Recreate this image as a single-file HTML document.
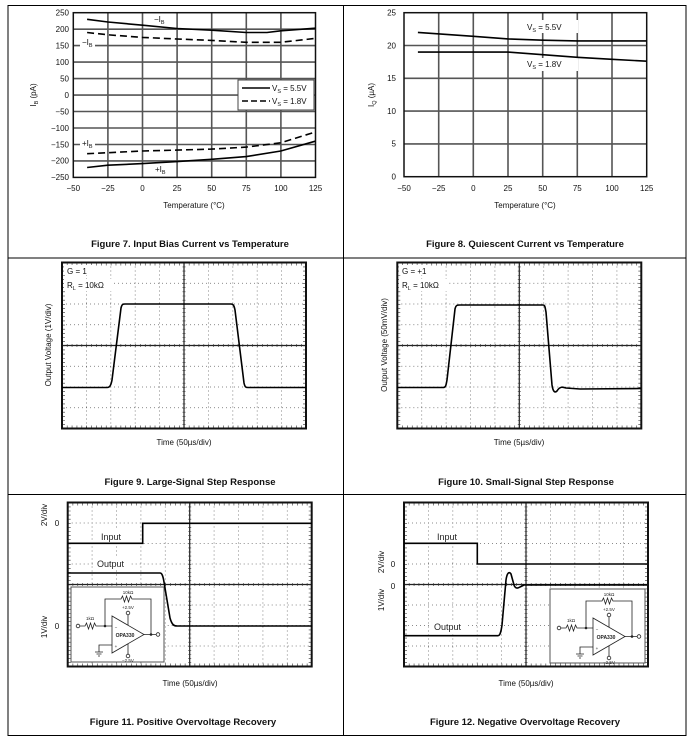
<!DOCTYPE html>
<html><head><meta charset="utf-8"><style>
html,body{margin:0;padding:0;background:#fff}
svg{display:block;font-family:"Liberation Sans",sans-serif}
.t{font-size:8px;fill:#111}
.cap{font-size:9.5px;font-weight:bold;fill:#111;text-anchor:middle}
.ax{font-size:8px;fill:#111;text-anchor:middle}
.dot{stroke:#666;stroke-width:0.8;stroke-dasharray:1 3}
.w{fill:none;stroke:#000;stroke-width:1.6}
</style></head><body>
<svg width="693" height="744" viewBox="0 0 693 744">
<defs>
<g id="scA">
<g class="dot">
<line x1="24.4" y1="0" x2="24.4" y2="166"/><line x1="48.8" y1="0" x2="48.8" y2="166"/><line x1="73.2" y1="0" x2="73.2" y2="166"/><line x1="97.6" y1="0" x2="97.6" y2="166"/><line x1="146.4" y1="0" x2="146.4" y2="166"/><line x1="170.8" y1="0" x2="170.8" y2="166"/><line x1="195.2" y1="0" x2="195.2" y2="166"/><line x1="219.6" y1="0" x2="219.6" y2="166"/>
<line x1="0" y1="20.75" x2="244" y2="20.75"/><line x1="0" y1="41.5" x2="244" y2="41.5"/><line x1="0" y1="62.25" x2="244" y2="62.25"/><line x1="0" y1="103.75" x2="244" y2="103.75"/><line x1="0" y1="124.5" x2="244" y2="124.5"/><line x1="0" y1="145.25" x2="244" y2="145.25"/>
</g>
<line x1="122" y1="0" x2="122" y2="166" stroke="#222" stroke-width="1.2"/>
<line x1="0" y1="83" x2="244" y2="83" stroke="#222" stroke-width="1.2"/>
<g stroke="#333" stroke-width="3" stroke-dasharray="0.6 4.28">
<line x1="0" y1="83" x2="244" y2="83"/><line x1="122" y1="0" x2="122" y2="166" stroke-dasharray="0.6 3.55"/>
<line x1="0" y1="1.5" x2="244" y2="1.5"/><line x1="0" y1="164.5" x2="244" y2="164.5"/>
<line x1="1.5" y1="0" x2="1.5" y2="166" stroke-dasharray="0.6 3.55"/><line x1="242.5" y1="0" x2="242.5" y2="166" stroke-dasharray="0.6 3.55"/>
</g>
<rect x="0" y="0" width="244" height="166" fill="none" stroke="#111" stroke-width="2"/>
</g>
<g id="scB">
<g class="dot">
<line x1="24.4" y1="0" x2="24.4" y2="164"/><line x1="48.8" y1="0" x2="48.8" y2="164"/><line x1="73.2" y1="0" x2="73.2" y2="164"/><line x1="97.6" y1="0" x2="97.6" y2="164"/><line x1="146.4" y1="0" x2="146.4" y2="164"/><line x1="170.8" y1="0" x2="170.8" y2="164"/><line x1="195.2" y1="0" x2="195.2" y2="164"/><line x1="219.6" y1="0" x2="219.6" y2="164"/>
<line x1="0" y1="20.5" x2="244" y2="20.5"/><line x1="0" y1="41" x2="244" y2="41"/><line x1="0" y1="61.5" x2="244" y2="61.5"/><line x1="0" y1="102.5" x2="244" y2="102.5"/><line x1="0" y1="123" x2="244" y2="123"/><line x1="0" y1="143.5" x2="244" y2="143.5"/>
</g>
<line x1="122" y1="0" x2="122" y2="164" stroke="#222" stroke-width="1.2"/>
<line x1="0" y1="82" x2="244" y2="82" stroke="#222" stroke-width="1.2"/>
<g stroke="#333" stroke-width="3" stroke-dasharray="0.6 4.28">
<line x1="0" y1="82" x2="244" y2="82"/><line x1="122" y1="0" x2="122" y2="164" stroke-dasharray="0.6 3.5"/>
<line x1="0" y1="1.5" x2="244" y2="1.5"/><line x1="0" y1="162.5" x2="244" y2="162.5"/>
<line x1="1.5" y1="0" x2="1.5" y2="164" stroke-dasharray="0.6 3.5"/><line x1="242.5" y1="0" x2="242.5" y2="164" stroke-dasharray="0.6 3.5"/>
</g>
<rect x="0" y="0" width="244" height="164" fill="none" stroke="#111" stroke-width="2"/>
</g>
<g id="circ">
<g fill="none" stroke="#222" stroke-width="0.8">
<circle cx="7" cy="39" r="1.8"/>
<path d="M9,39 H14 l1.5,-3 l2,6 l2,-6 l2,6 l2,-6 l1.5,3 H34 V12 H50 l1.5,-3 l2,6 l2,-6 l2,6 l2,-6 l1.5,3 H80 V47"/>
<path d="M41,29 L41,66 L73,47.5 Z" fill="#fff"/>
<path d="M34,39 H41 M73,47.5 H85"/>
<circle cx="87" cy="47.5" r="1.8"/>
<path d="M57,38 V28"/><circle cx="57" cy="26" r="1.8"/>
<path d="M57,57 V67"/><circle cx="57" cy="69" r="1.8"/>
<path d="M41,58 H28 V65 M24,65 H32 M25.5,67 H30.5 M27,69 H29"/>
</g>
<circle cx="34" cy="39" r="1.3" fill="#222"/><circle cx="80" cy="47.5" r="1.3" fill="#222"/>
<g font-size="4.5" fill="#222" text-anchor="middle">
<text x="19" y="33">1kΩ</text><text x="57" y="7">10kΩ</text>
<text x="57" y="22">+2.5V</text><text x="57" y="75">−2.5V</text>
<text x="45" y="42">−</text><text x="45" y="61">+</text>
</g>
<text x="54" y="50" font-size="5" font-weight="bold" fill="#222" text-anchor="middle">OPA330</text>
</g>
</defs>

<g stroke="#000" stroke-width="1" fill="none">
<rect x="8" y="5.5" width="678" height="730"/>
<line x1="343.5" y1="5.5" x2="343.5" y2="735.5"/>
<line x1="8" y1="258" x2="686" y2="258"/>
<line x1="8" y1="494.5" x2="686" y2="494.5"/>
</g>

<!-- Figure 7 -->
<g stroke="#555" stroke-width="1.6">
<line x1="107.9" y1="12.7" x2="107.9" y2="177.4"/><line x1="142.5" y1="12.7" x2="142.5" y2="177.4"/><line x1="177.1" y1="12.7" x2="177.1" y2="177.4"/><line x1="211.7" y1="12.7" x2="211.7" y2="177.4"/><line x1="246.3" y1="12.7" x2="246.3" y2="177.4"/><line x1="280.9" y1="12.7" x2="280.9" y2="177.4"/>
<line x1="73.3" y1="29.2" x2="315.5" y2="29.2"/><line x1="73.3" y1="45.6" x2="315.5" y2="45.6"/><line x1="73.3" y1="62.1" x2="315.5" y2="62.1"/><line x1="73.3" y1="78.6" x2="315.5" y2="78.6"/><line x1="73.3" y1="95.1" x2="315.5" y2="95.1"/><line x1="73.3" y1="111.5" x2="315.5" y2="111.5"/><line x1="73.3" y1="128" x2="315.5" y2="128"/><line x1="73.3" y1="144.5" x2="315.5" y2="144.5"/><line x1="73.3" y1="160.9" x2="315.5" y2="160.9"/>
</g>
<rect x="73.3" y="12.7" width="242.2" height="164.7" fill="none" stroke="#111" stroke-width="1.5"/>
<rect x="80" y="38" width="15" height="9" fill="#fff"/>
<rect x="80" y="138" width="15" height="9" fill="#fff"/>
<g class="w">
<path d="M87.1,19.3 L107.9,22 L142.5,25.2 L177,28.5 L211.6,30.2 L246.2,32.5 L267,32.5 L280.8,30.8 L315.3,28.2"/>
<path d="M87.1,167.5 L107.9,165.2 L142.5,163.6 L177,161.6 L211.6,159.3 L246.2,156.6 L280.8,151 L315.3,141.2"/>
<path d="M87.1,32.5 L107.9,34.8 L142.5,37.4 L177,39 L211.6,40.4 L246.2,42.3 L280.8,42.3 L315.3,38.4" stroke-dasharray="7 4"/>
<path d="M87.1,153.7 L107.9,152.7 L142.5,151 L177,150.1 L211.6,149.1 L246.2,147.1 L280.8,142.8 L315.3,132" stroke-dasharray="7 4"/>
</g>
<rect x="238" y="80" width="76" height="30" fill="#fff" stroke="#444" stroke-width="1"/>
<line x1="242" y1="88" x2="270" y2="88" stroke="#000" stroke-width="1.5"/>
<line x1="242" y1="101" x2="270" y2="101" stroke="#000" stroke-width="1.5" stroke-dasharray="6 3"/>
<text x="272" y="91" class="t">V<tspan font-size="5.5" dy="2">S</tspan><tspan dy="-2"> = 5.5V</tspan></text>
<text x="272" y="104" class="t">V<tspan font-size="5.5" dy="2">S</tspan><tspan dy="-2"> = 1.8V</tspan></text>
<text x="154" y="22" class="t">−I<tspan font-size="5.5" dy="2">B</tspan></text>
<text x="82" y="45" class="t">−I<tspan font-size="5.5" dy="2">B</tspan></text>
<text x="82" y="146" class="t">+I<tspan font-size="5.5" dy="2">B</tspan></text>
<text x="155" y="172" class="t">+I<tspan font-size="5.5" dy="2">B</tspan></text>
<g class="t" text-anchor="end">
<text x="69" y="15.5">250</text><text x="69" y="32">200</text><text x="69" y="48.4">150</text><text x="69" y="64.9">100</text><text x="69" y="81.4">50</text><text x="69" y="97.9">0</text><text x="69" y="114.3">−50</text><text x="69" y="130.8">−100</text><text x="69" y="147.3">−150</text><text x="69" y="163.7">−200</text><text x="69" y="180.2">−250</text>
</g>
<g class="ax">
<text x="73.3" y="191">−50</text><text x="107.9" y="191">−25</text><text x="142.5" y="191">0</text><text x="177.1" y="191">25</text><text x="211.7" y="191">50</text><text x="246.3" y="191">75</text><text x="280.9" y="191">100</text><text x="315.5" y="191">125</text>
<text x="194" y="208">Temperature (°C)</text>
</g>
<text transform="translate(36,95) rotate(-90)" class="ax">I<tspan font-size="5.5" dy="2">B</tspan><tspan dy="-2"> (pA)</tspan></text>
<text x="190" y="247" class="cap">Figure 7. Input Bias Current vs Temperature</text>

<!-- Figure 8 -->
<g stroke="#555" stroke-width="1.6">
<line x1="438.7" y1="12.7" x2="438.7" y2="176.7"/><line x1="473.3" y1="12.7" x2="473.3" y2="176.7"/><line x1="508" y1="12.7" x2="508" y2="176.7"/><line x1="542.7" y1="12.7" x2="542.7" y2="176.7"/><line x1="577.3" y1="12.7" x2="577.3" y2="176.7"/><line x1="612" y1="12.7" x2="612" y2="176.7"/>
<line x1="404" y1="45.5" x2="646.7" y2="45.5"/><line x1="404" y1="78.3" x2="646.7" y2="78.3"/><line x1="404" y1="111.1" x2="646.7" y2="111.1"/><line x1="404" y1="143.9" x2="646.7" y2="143.9"/>
</g>
<rect x="404" y="12.7" width="242.7" height="164" fill="none" stroke="#111" stroke-width="1.5"/>
<rect x="524" y="20" width="54" height="13" fill="#fff"/>
<rect x="524" y="58" width="54" height="13" fill="#fff"/>
<g class="w">
<path d="M417.9,32.4 L473.3,36.3 L508,38.9 L542.7,40.2 L577.3,40.9 L646.7,40.9"/>
<path d="M417.9,52.1 L508,52.1 L542.7,54.7 L577.3,57.3 L612,59.3 L646.7,61.2"/>
</g>
<text x="527" y="30" class="t">V<tspan font-size="5.5" dy="2">S</tspan><tspan dy="-2"> = 5.5V</tspan></text>
<text x="527" y="67" class="t">V<tspan font-size="5.5" dy="2">S</tspan><tspan dy="-2"> = 1.8V</tspan></text>
<g class="t" text-anchor="end">
<text x="396" y="15.5">25</text><text x="396" y="48.3">20</text><text x="396" y="81.1">15</text><text x="396" y="113.9">10</text><text x="396" y="146.7">5</text><text x="396" y="179.5">0</text>
</g>
<g class="ax">
<text x="404" y="191">−50</text><text x="438.7" y="191">−25</text><text x="473.3" y="191">0</text><text x="508" y="191">25</text><text x="542.7" y="191">50</text><text x="577.3" y="191">75</text><text x="612" y="191">100</text><text x="646.7" y="191">125</text>
<text x="525" y="208">Temperature (°C)</text>
</g>
<text transform="translate(374,95) rotate(-90)" class="ax">I<tspan font-size="5.5" dy="2">Q</tspan><tspan dy="-2"> (µA)</tspan></text>
<text x="525" y="247" class="cap">Figure 8. Quiescent Current vs Temperature</text>

<!-- Figure 9 -->
<use href="#scA" x="62" y="262.5"/>
<rect x="64" y="265" width="28" height="10" fill="#fff"/>
<rect x="64" y="279" width="50" height="12" fill="#fff"/>
<text x="67" y="274" class="t">G = 1</text>
<text x="67" y="288" class="t">R<tspan font-size="5.5" dy="2">L</tspan><tspan dy="-2"> = 10kΩ</tspan></text>
<path class="w" d="M62,387.5 L107,387.5 C110,387.5 111,385 112,380 L121,308 C122,304 123,304 125,304 L231,304 C233,304 234,305 235,310 L244,383 C245,387.5 246,387.5 248,387.5 L306,387.5"/>
<text transform="translate(51,345) rotate(-90)" class="ax">Output Voltage (1V/div)</text>
<text x="184" y="445" class="ax">Time (50µs/div)</text>
<text x="190" y="485" class="cap">Figure 9. Large-Signal Step Response</text>

<!-- Figure 10 -->
<use href="#scA" x="397.3" y="262.5"/>
<rect x="399" y="265" width="30" height="10" fill="#fff"/>
<rect x="399" y="279" width="50" height="12" fill="#fff"/>
<text x="402" y="274" class="t">G = +1</text>
<text x="402" y="288" class="t">R<tspan font-size="5.5" dy="2">L</tspan><tspan dy="-2"> = 10kΩ</tspan></text>
<path class="w" d="M397,387.5 L443,387.5 C446,387.5 446,385 447,380 L455,309 C456,305 457,305 460,305 L543,305 C545,305 545,307 546,312 L552,385 C553,392 555,393 557,391 C560,386 563,387 566,388 L580,389 L641,388.5"/>
<text transform="translate(387,345) rotate(-90)" class="ax">Output Voltage (50mV/div)</text>
<text x="519" y="445" class="ax">Time (5µs/div)</text>
<text x="526" y="485" class="cap">Figure 10. Small-Signal Step Response</text>

<!-- Figure 11 -->
<use href="#scB" x="67.7" y="502.5"/>
<rect x="71" y="587" width="93" height="75" fill="#fff" stroke="#555" stroke-width="1"/>
<use href="#circ" x="71" y="587"/>
<path class="w" d="M67.7,543.3 H142.7 V523.3 H312"/>
<path class="w" d="M67.7,573 H160 C162,573 163,576 164,582 L170,618 C172,625 174,626 177,626 H312"/>
<rect x="97" y="530" width="28" height="12" fill="#fff"/>
<rect x="93" y="558" width="36" height="12" fill="#fff"/>
<text x="101" y="540" font-size="9" fill="#222">Input</text>
<text x="97" y="567" font-size="9" fill="#222">Output</text>
<text transform="translate(47,515) rotate(-90)" class="ax">2V/div</text>
<text x="57" y="526" class="ax">0</text>
<text transform="translate(47,627) rotate(-90)" class="ax">1V/div</text>
<text x="57" y="629" class="ax">0</text>
<text x="190" y="686" class="ax">Time (50µs/div)</text>
<text x="183" y="725" class="cap">Figure 11. Positive Overvoltage Recovery</text>

<!-- Figure 12 -->
<use href="#scB" x="404" y="502.5"/>
<path class="w" d="M404,543.3 H477.3 V564 H647"/>
<path class="w" d="M404,635.7 H498 C500,635.7 501,632 502,625 L506,580 C507,573 509,571 511,574 L514,585 C515,588 517,589 520,587 L524,585 H647"/>
<rect x="550" y="589" width="95" height="74" fill="#fff" stroke="#555" stroke-width="1"/>
<use href="#circ" x="552" y="589"/>
<rect x="434" y="530" width="28" height="12" fill="#fff"/>
<rect x="431" y="620" width="36" height="12" fill="#fff"/>
<text x="437" y="540" font-size="9" fill="#222">Input</text>
<text x="434" y="630" font-size="9" fill="#222">Output</text>
<text transform="translate(384,562) rotate(-90)" class="ax">2V/div</text>
<text x="393" y="567" class="ax">0</text>
<text transform="translate(384,600) rotate(-90)" class="ax">1V/div</text>
<text x="393" y="589" class="ax">0</text>
<text x="526" y="686" class="ax">Time (50µs/div)</text>
<text x="525" y="725" class="cap">Figure 12. Negative Overvoltage Recovery</text>
</svg>
</body></html>
